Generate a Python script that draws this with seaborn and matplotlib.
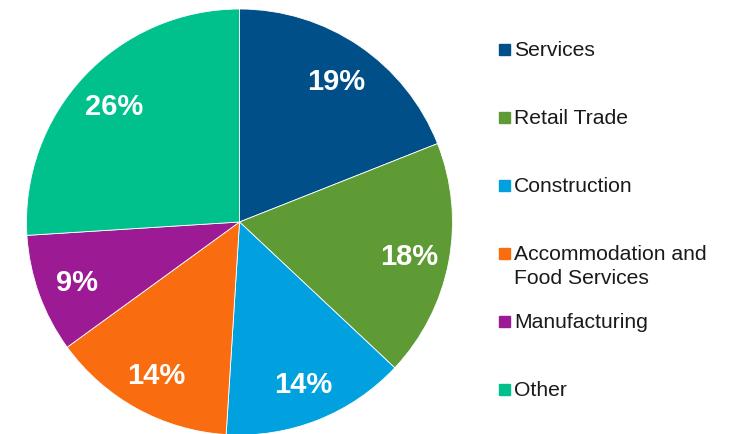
import matplotlib
matplotlib.use("Agg")
import matplotlib.pyplot as pyplot
from matplotlib.patches import Rectangle
import seaborn

sectors = ["Services", "Retail Trade", "Construction",
           "Accommodation and\nFood Services", "Manufacturing", "Other"]
shares = [19, 18, 14, 14, 9, 26]
colours = ["#004F88", "#5F9B35", "#00A1DE", "#F96D10", "#9C1A94", "#00C18C"]

seaborn.set_theme(style="white")
pyplot.rcParams["font.family"] = ["Liberation Sans", "DejaVu Sans"]

W, H = 735, 434
fig = pyplot.figure(figsize=(W / 100, H / 100), dpi=100)

# pie box: 426 px square, left edge at x=26.5, top at y=9
ax = fig.add_axes([26.5 / W, (H - 435) / H, 426 / W, 426 / H])
palette = seaborn.color_palette(colours)
wedges, texts, autotexts = ax.pie(
    shares, colors=palette, startangle=90, counterclock=False,
    autopct=lambda p: f"{p:.0f}%", pctdistance=0.81, radius=1,
    wedgeprops=dict(edgecolor="white", linewidth=0.6),
    textprops=dict(color="white", fontsize=21, fontweight="bold"))
for t in autotexts:
    t.set_va("center_baseline")
ax.set_xlim(-1, 1)
ax.set_ylim(-1, 1)
ax.set_aspect("equal")
ax.axis("off")

# legend drawn by hand to keep Excel-like spacing
for i, (label, colour) in enumerate(zip(sectors, palette)):
    base = 56 + 68 * i
    fig.add_artist(Rectangle((499 / W, 1 - (base - 1) / H), 11 / W, 11 / H,
                             transform=fig.transFigure, color=colour))
    for j, line in enumerate(label.split("\n")):
        fig.text(514 / W, 1 - (base + 24 * j) / H, line, fontsize=15.2,
                 color="#1a1a1a", va="baseline", ha="left")

fig.savefig("out.png", dpi=100)
